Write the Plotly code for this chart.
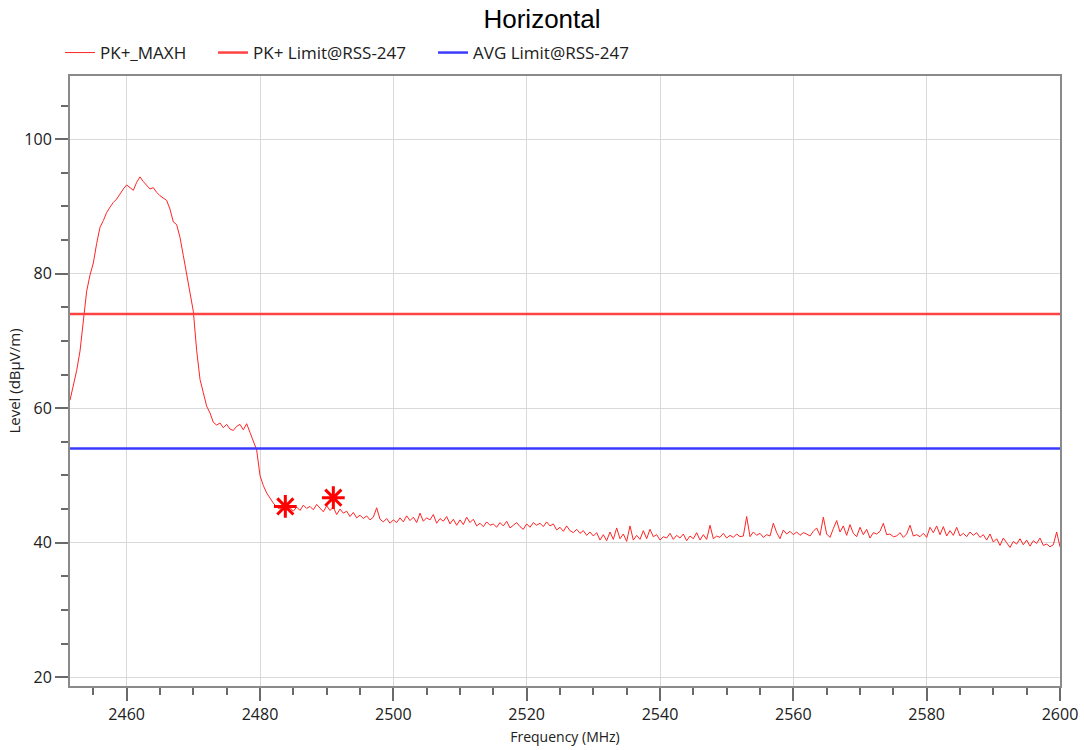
import numpy as np
import plotly.graph_objects as go

# Sweep settings of the max-hold trace
FREQ_START = 2451.5   # MHz
FREQ_STEP = 0.5       # MHz

# PK+_MAXH level readings (dBµV/m), one per sweep step
level_pk = [
    61.2, 63.5, 65.6, 68.5, 73.2, 77.4, 79.8, 81.6, 84.5, 86.9,
    87.9, 89.1, 89.9, 90.6, 91.1, 91.9, 92.6, 93.2, 92.8, 92.4,
    93.6, 94.4, 93.7, 93.2, 92.6, 92.8, 92.1, 91.6, 91.3, 90.9,
    89.6, 87.7, 87.3, 85.4, 82.7, 79.9, 76.8, 74.4, 68.6, 64.3,
    62.3, 60.3, 59.3, 57.9, 57.5, 57.8, 57.1, 57.6, 56.9, 56.7,
    57.3, 57.6, 56.8, 57.7, 56.4, 55.2, 53.8, 50.0, 48.5, 47.4,
    46.6, 45.9, 45.3, 45.0, 45.4, 44.9, 45.2, 44.7, 45.3, 44.8,
    45.6, 45.1, 45.4, 44.9, 45.7, 45.2, 44.6, 45.5, 44.8, 45.3,
    44.2, 45.0, 44.4, 44.7, 43.9, 44.5, 43.7, 44.1, 43.6, 44.0,
    43.4, 43.8, 45.2, 43.5, 43.1, 43.6, 42.9, 43.4, 43.0, 43.7,
    43.1, 44.0, 43.3, 43.8, 43.0, 44.4, 43.2, 43.7, 43.4, 44.2,
    42.9, 43.6, 43.2, 43.9, 42.8, 43.5, 42.6, 43.4, 42.7, 43.8,
    43.0, 43.5, 42.5, 42.9, 42.4, 43.1, 42.6, 42.8, 42.3, 43.0,
    42.5, 43.2, 42.2, 42.6, 43.0, 42.4, 42.0, 42.8, 42.3, 43.0,
    42.6, 42.9, 42.4, 43.1, 42.5, 42.8, 41.9, 42.3, 41.7, 42.5,
    41.8, 41.5, 42.0, 41.4, 41.8, 41.1, 41.6, 41.0, 41.5, 40.4,
    41.2, 40.3, 41.6, 40.5, 42.2, 40.6, 41.3, 40.2, 42.5, 40.4,
    41.1, 40.5, 41.8, 40.6, 42.0, 40.9, 41.2, 40.4, 40.9, 40.7,
    41.4, 40.5, 41.1, 40.7, 41.3, 40.3, 41.0, 40.6, 41.5, 40.4,
    41.2, 40.5, 42.6, 40.6, 41.0, 40.8, 41.4, 40.7, 41.1, 40.8,
    41.3, 40.9, 41.0, 43.9, 40.9, 41.6, 41.1, 41.4, 40.8, 41.2,
    41.0, 42.9, 41.5, 40.6, 41.9, 41.3, 41.7, 41.2, 41.6, 41.1,
    41.5, 41.3, 41.0, 41.7, 42.2, 41.1, 43.8, 41.3, 40.8, 42.1,
    43.3, 41.6, 42.5, 41.1, 42.7, 41.4, 40.9, 42.3, 41.2, 42.0,
    40.7, 41.5, 41.3, 41.7, 42.9, 41.2, 41.3, 40.9, 41.0, 41.5,
    40.8, 41.3, 42.6, 41.0, 41.2, 40.9, 41.4, 40.8, 42.3, 41.5,
    42.5, 41.2, 42.4, 41.0, 41.8, 41.1, 42.3, 41.0, 41.4, 40.9,
    41.6, 41.1, 41.5, 40.8, 41.2, 40.4, 41.3, 40.1, 40.6, 39.6,
    40.7, 40.0, 39.3, 40.2, 39.8, 40.6, 39.7, 40.4, 39.5, 40.3,
    39.9, 40.7, 39.6, 39.8, 39.4, 39.7, 41.6, 39.4,
]

# Limits (dBµV/m)
PK_LIMIT = 74
AVG_LIMIT = 54

# Marked emissions
marker_freq = [2483.8, 2491.0]
marker_level = [45.4, 46.7]

# Axis extents
X_RANGE = [2451.5, 2600]
Y_RANGE = [18.7, 109.4]
x_ticks = [2460, 2480, 2500, 2520, 2540, 2560, 2580, 2600]
y_ticks = [20, 40, 60, 80, 100]

freqs = FREQ_START + FREQ_STEP * np.arange(len(level_pk))

RED_TRACE = "#ff2424"
RED_LIMIT = "#ff4343"
BLUE_LIMIT = "#3b3bff"
UI_FONT = "Open Sans, Noto Sans, DejaVu Sans, sans-serif"

# Plot area in pixels
W, H = 1084, 750
M_L, M_R, M_T, M_B = 70, 24, 76, 64
PLOT_W = W - M_L - M_R
PLOT_H = H - M_T - M_B

fig = go.Figure()

fig.add_trace(go.Scatter(
    x=freqs, y=level_pk, mode="lines", name="PK+_MAXH",
    line=dict(color=RED_TRACE, width=1), legend="legend",
))
fig.add_trace(go.Scatter(
    x=X_RANGE, y=[PK_LIMIT, PK_LIMIT], mode="lines", name="PK+ Limit@RSS-247",
    line=dict(color=RED_LIMIT, width=2.5), legend="legend2",
))
fig.add_trace(go.Scatter(
    x=X_RANGE, y=[AVG_LIMIT, AVG_LIMIT], mode="lines", name="AVG Limit@RSS-247",
    line=dict(color=BLUE_LIMIT, width=2.5), legend="legend3",
))
fig.add_trace(go.Scatter(
    x=marker_freq, y=marker_level, mode="markers", showlegend=False,
    marker=dict(symbol="asterisk-open", size=19, color="#ff0000",
                line=dict(color="#ff0000", width=3)),
))


def legend_at(px_left):
    """Horizontal one-entry legend whose box starts at px_left (figure pixels)."""
    return dict(
        orientation="h", xref="paper", yref="paper",
        x=(px_left - M_L) / PLOT_W, xanchor="left",
        y=1 + (M_T - 53) / PLOT_H, yanchor="middle",
        bgcolor="rgba(0,0,0,0)", borderwidth=0,
        font=dict(family=UI_FONT, size=17, color="#202020"),
    )


axis_common = dict(
    showgrid=True, gridcolor="#d9d9d9", gridwidth=1,
    showline=True, linecolor="#8a8a8a", linewidth=2, mirror=True,
    ticks="outside", ticklen=13, tickwidth=1.5, tickcolor="#6a6a6a",
    tickfont=dict(family=UI_FONT, size=16, color="#202020"),
    zeroline=False, automargin=False,
)

fig.update_layout(
    width=W, height=H,
    margin=dict(l=M_L, r=M_R, t=M_T, b=M_B),
    paper_bgcolor="white", plot_bgcolor="white",
    title=dict(text="Horizontal", x=0.5, xref="container", xanchor="center",
               y=1 - 19 / H, yref="container", yanchor="middle",
               font=dict(family="Liberation Sans, Arial, sans-serif", size=26, color="black")),
    legend=legend_at(60),
    legend2=legend_at(213),
    legend3=legend_at(433),
    xaxis=dict(axis_common, range=X_RANGE, tickvals=x_ticks,
               minor=dict(dtick=5, tick0=2450, ticks="outside", ticklen=7,
                          tickwidth=1.5, tickcolor="#6a6a6a", showgrid=False),
               title=dict(text="Frequency (MHz)", standoff=8,
                          font=dict(family=UI_FONT, size=14, color="#202020"))),
    yaxis=dict(axis_common, range=Y_RANGE, tickvals=y_ticks,
               minor=dict(dtick=5, tick0=0, ticks="outside", ticklen=7,
                          tickwidth=1.5, tickcolor="#6a6a6a", showgrid=False),
               title=dict(text="Level (dBµV/m)", standoff=0,
                          font=dict(family=UI_FONT, size=15, color="#202020"))),
)

fig.write_html("out.html")
